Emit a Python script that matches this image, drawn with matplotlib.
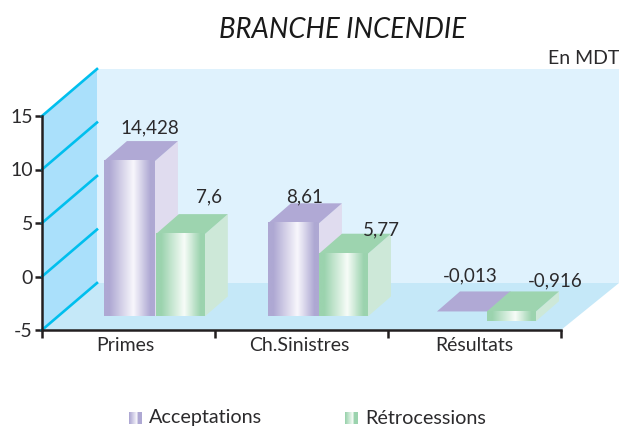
import numpy as np
import matplotlib
matplotlib.use('Agg')
import matplotlib.pyplot as plt
from matplotlib.colors import LinearSegmentedColormap
from matplotlib.patches import Polygon

plt.rcParams['font.family'] = ['Lato', 'DejaVu Sans']
plt.rcParams['axes.unicode_minus'] = False

# Data
categories = ['Primes', 'Ch.Sinistres', 'Résultats']
acceptations = [14.428, 8.61, -0.013]
retrocessions = [7.6, 5.77, -0.916]
y_ticks = [-5, 0, 5, 10, 15]

W, H = 619, 426
TEXT = '#2b2a2c'
AXIS = '#231f20'
LABEL_SIZE = 13.5

fig = plt.figure(figsize=(W / 100, H / 100), dpi=100)
# axes rectangle in pixels: x 42-561, y 116-330
ax = fig.add_axes([42 / W, 1 - 330 / H, 519 / W, 214 / H])
ax.set_facecolor('none')

ux = 3 / 519   # x units per pixel
uy = 20 / 214  # y units per pixel

# 3D frame: back wall, floor, side wall
dx_wall, dy_wall = 55 * ux, 47 * uy
right = (619 - 42) * ux
ax.add_patch(Polygon([(dx_wall, -5 + dy_wall), (right, -5 + dy_wall), (right, 15 + dy_wall),
                      (dx_wall, 15 + dy_wall)], fc='#dff2fd', ec='none', clip_on=False, zorder=1))
ax.add_patch(Polygon([(0, -5), (3, -5), (right, -5 + dy_wall), (dx_wall, -5 + dy_wall)],
                     fc='#c5e8f8', ec='none', clip_on=False, zorder=1))
ax.add_patch(Polygon([(0, -5), (dx_wall, -5 + dy_wall), (dx_wall, 15 + dy_wall), (0, 15)],
                     fc='#aae0fb', ec='none', clip_on=False, zorder=1))
for t in y_ticks:
    ax.plot([0, dx_wall], [t, t + dy_wall], color='#00bfee', lw=1.9, clip_on=False, zorder=2)

# Bars
purple = {'edge': '#aea8d3', 'mid': '#f8f7fc', 'side': '#e0dcef', 'top': '#b0a9d5'}
green = {'edge': '#9bd3ae', 'mid': '#f7fcf8', 'side': '#cde8d8', 'top': '#9dd4af'}

left_a = [0.358, 1.306, 2.283]
left_r = [0.658, 1.601, 2.572]
width_a, width_r = 51 * ux, 49 * ux
dx_bar, dy_bar = 23 * ux, 20 * uy
zero = -3.64       # the bars stand on the floor, not on the 0 tick
base = zero - 1 * uy
neg_top = zero + 4 * uy


def draw_bar(x0, w, v, c, z):
    top = zero + v if v >= 0 else neg_top
    bot = base if v >= 0 else neg_top + v
    cmap = LinearSegmentedColormap.from_list('b', [(0, c['edge']), (0.1, c['edge']),
                                                   (0.58, c['mid']), (0.92, c['edge']), (1, c['edge'])])
    ax.add_patch(Polygon([(x0 + w, bot), (x0 + w + dx_bar, bot + dy_bar), (x0 + w + dx_bar, top + dy_bar),
                          (x0 + w, top)], fc=c['side'], ec='none', clip_on=False, zorder=z))
    ax.add_patch(Polygon([(x0, top), (x0 + w, top), (x0 + w + dx_bar, top + dy_bar), (x0 + dx_bar, top + dy_bar)],
                         fc=c['top'], ec='none', clip_on=False, zorder=z))
    if top - bot > 0.05:
        ax.imshow(np.linspace(0, 1, 64).reshape(1, -1), extent=(x0, x0 + w, bot, top), cmap=cmap,
                  aspect='auto', clip_on=False, zorder=z)
    return top


label_off_a = [(20, 33), (11, 26), (8, 36)]
label_off_r = [(29, 37), (38, 24), (44, 31)]

for i in range(3):
    top_a = draw_bar(left_a[i], width_a, acceptations[i], purple, 3)
    top_r = draw_bar(left_r[i], width_r, retrocessions[i], green, 4)
    ax.annotate(str(acceptations[i]).replace('.', ','), (left_a[i] + width_a / 2, top_a),
                xytext=label_off_a[i], textcoords='offset pixels', ha='center', va='center',
                fontsize=LABEL_SIZE, color=TEXT, annotation_clip=False, zorder=6)
    ax.annotate(str(retrocessions[i]).replace('.', ','), (left_r[i] + width_r / 2, top_r),
                xytext=label_off_r[i], textcoords='offset pixels', ha='center', va='center',
                fontsize=LABEL_SIZE, color=TEXT, annotation_clip=False, zorder=6)

# Axes
ax.set_xlim(0, 3)
ax.set_ylim(-5, 15)
for s in ['top', 'right']:
    ax.spines[s].set_visible(False)
for s in ['left', 'bottom']:
    ax.spines[s].set_linewidth(1.8)
    ax.spines[s].set_color(AXIS)
    ax.spines[s].set_zorder(5)
ax.set_yticks(y_ticks)
ax.set_xticks([0, 1, 2, 3])
ax.set_xticklabels([])
ax.set_xticks([0.48, 1.485, 2.5], categories, minor=True)
ax.tick_params(axis='x', which='major', length=6, width=1.8, color=AXIS)
ax.tick_params(axis='x', which='minor', length=0, pad=5, labelsize=14, labelcolor=TEXT)
ax.tick_params(axis='y', length=5, width=1.8, color=AXIS, pad=1.5, labelsize=14, labelcolor=TEXT)

# Title and unit
fig.text(342.5 / W, 1 - 30 / H, 'BRANCHE INCENDIE', ha='center', va='center', fontsize=19.8,
         style='italic', color='#1a1a1a')
fig.text(619 / W, 1 - 59 / H, 'En MDT', ha='right', va='center', fontsize=14, color=TEXT)

# Legend
for x0, c, name in [(129, purple, 'Acceptations'), (345, green, 'Rétrocessions')]:
    cax = fig.add_axes([x0 / W, 1 - 424 / H, 13 / W, 12 / H])
    cmap = LinearSegmentedColormap.from_list('s', [(0, c['edge']), (0.62, c['mid']), (0.72, c['edge']), (1, c['edge'])])
    cax.imshow(np.linspace(0, 1, 13).reshape(1, -1), cmap=cmap, aspect='auto')
    cax.axis('off')
    fig.text((x0 + 20) / W, 1 - 418 / H, name, ha='left', va='center', fontsize=14.2, color=TEXT)

fig.savefig('out.png', dpi=100)
